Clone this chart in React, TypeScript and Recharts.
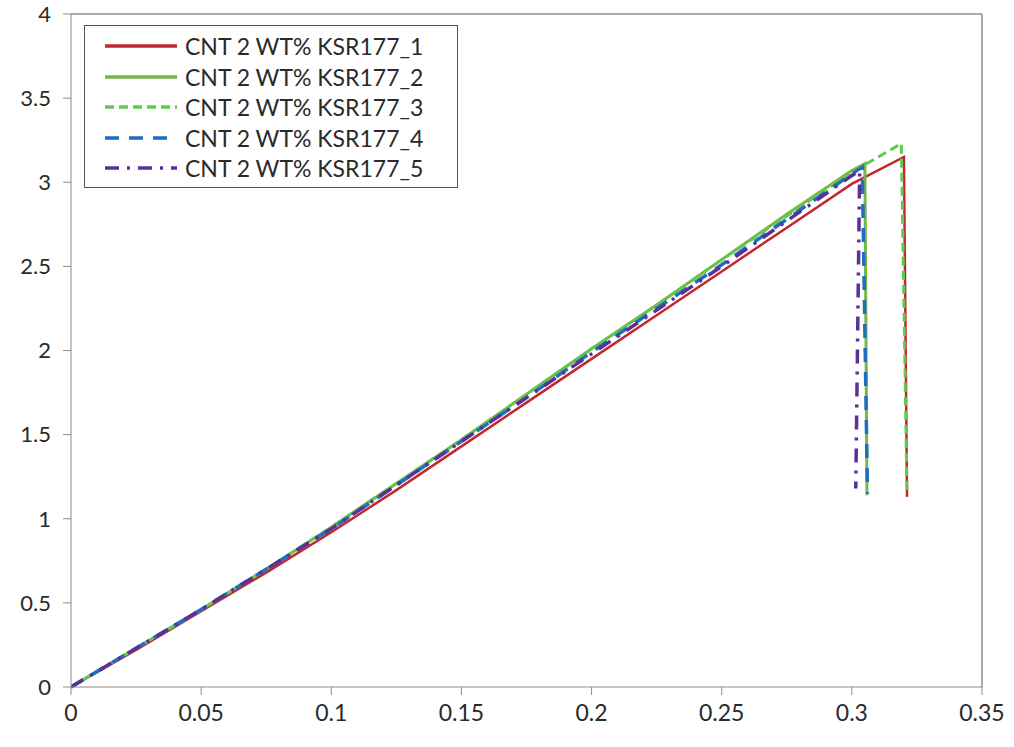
import React from "react";
import { LineChart, Line, XAxis, YAxis, ReferenceLine } from "recharts";

const strainBase = [0, 0.025, 0.05, 0.075, 0.1, 0.125, 0.15, 0.175, 0.2, 0.225, 0.25, 0.275, 0.3];

const s1x = [...strainBase, 0.32, 0.3212];
const s1y = [0, 0.22, 0.45, 0.68, 0.92, 1.17, 1.43, 1.69, 1.95, 2.21, 2.47, 2.73, 2.99, 3.15, 1.13];

const s2x = [...strainBase, 0.305, 0.3058];
const s2y = [0, 0.23, 0.46, 0.7, 0.95, 1.21, 1.47, 1.74, 2.01, 2.27, 2.54, 2.81, 3.07, 3.11, 1.14];

const s3x = [...strainBase, 0.319, 0.3212];
const s3y = [0, 0.23, 0.46, 0.7, 0.95, 1.21, 1.47, 1.74, 2.01, 2.27, 2.54, 2.8, 3.06, 3.23, 1.15];

const s4x = [...strainBase, 0.304, 0.306];
const s4y = [0, 0.23, 0.46, 0.7, 0.94, 1.2, 1.46, 1.72, 1.99, 2.25, 2.51, 2.78, 3.05, 3.09, 1.15];

const s5x = [...strainBase, 0.303, 0.3015];
const s5y = [0, 0.23, 0.46, 0.7, 0.94, 1.2, 1.46, 1.72, 1.98, 2.24, 2.5, 2.77, 3.04, 3.07, 1.18];

const xTicks = [0, 0.05, 0.1, 0.15, 0.2, 0.25, 0.3, 0.35];
const yTicks = [0, 0.5, 1, 1.5, 2, 2.5, 3, 3.5, 4];

const names = [
  "CNT 2 WT% KSR177_1",
  "CNT 2 WT% KSR177_2",
  "CNT 2 WT% KSR177_3",
  "CNT 2 WT% KSR177_4",
  "CNT 2 WT% KSR177_5",
];

const toPts = (xs: number[], ys: number[]) => xs.map((x, i) => ({ x, y: ys[i] }));

const series = [
  { data: toPts(s1x, s1y), color: "#c0282e", dash: undefined, width: 2.5 },
  { data: toPts(s2x, s2y), color: "#77b546", dash: undefined, width: 3 },
  { data: toPts(s3x, s3y), color: "#5fcb4c", dash: "9 5", width: 3 },
  { data: toPts(s4x, s4y), color: "#1e6ec2", dash: "14 10", width: 3.5 },
  { data: toPts(s5x, s5y), color: "#5a3199", dash: "14 8 3 8", width: 3.5 },
];

const font = "Lato, 'Open Sans', sans-serif";
const axisColor = "#8c8c8c";
const textColor = "#2a2a2a";

function LegendBox() {
  return (
    <div
      style={{
        position: "absolute",
        left: 84,
        top: 25,
        width: 374,
        height: 163,
        border: "1.5px solid #555",
        background: "#fff",
        boxSizing: "border-box",
        padding: "5px 0 0 18px",
        fontFamily: font,
        fontSize: 23,
        color: textColor,
      }}
    >
      {series.map((s, i) => (
        <div key={i} style={{ display: "flex", alignItems: "center", height: 30.5 }}>
          <svg width={76} height={10} style={{ marginRight: 6 }}>
            <line x1={2} y1={5} x2={74} y2={5} stroke={s.color} strokeWidth={3.5} strokeDasharray={s.dash} />
          </svg>
          <span>{names[i]}</span>
        </div>
      ))}
    </div>
  );
}

export default function App() {
  return (
    <div style={{ position: "absolute", left: 0, top: 0, width: 1014, height: 747, background: "#fff" }}>
      <LineChart width={1014} height={747} margin={{ top: 14, right: 32, left: 0, bottom: 0 }}>
        <XAxis
          type="number"
          dataKey="x"
          domain={[0, 0.35]}
          ticks={xTicks}
          tickFormatter={(v) => String(v)}
          stroke={axisColor}
          tickSize={8}
          tickMargin={10}
          height={60}
          tick={{ fontSize: 23, fill: textColor, fontFamily: font }}
          allowDataOverflow
        />
        <YAxis
          type="number"
          dataKey="y"
          domain={[0, 4]}
          ticks={yTicks}
          stroke={axisColor}
          tickSize={8}
          tickMargin={12}
          width={71}
          tick={{ fontSize: 22, fill: textColor, fontFamily: font }}
        />
        <ReferenceLine y={4} stroke={axisColor} strokeWidth={1.5} />
        <ReferenceLine x={0.35} stroke={axisColor} strokeWidth={1.5} />
        {series.map((s, i) => (
          <Line
            key={i}
            data={s.data}
            dataKey="y"
            name={names[i]}
            type="linear"
            stroke={s.color}
            strokeWidth={s.width}
            strokeDasharray={s.dash}
            dot={false}
            isAnimationActive={false}
          />
        ))}
      </LineChart>
      <LegendBox />
    </div>
  );
}
